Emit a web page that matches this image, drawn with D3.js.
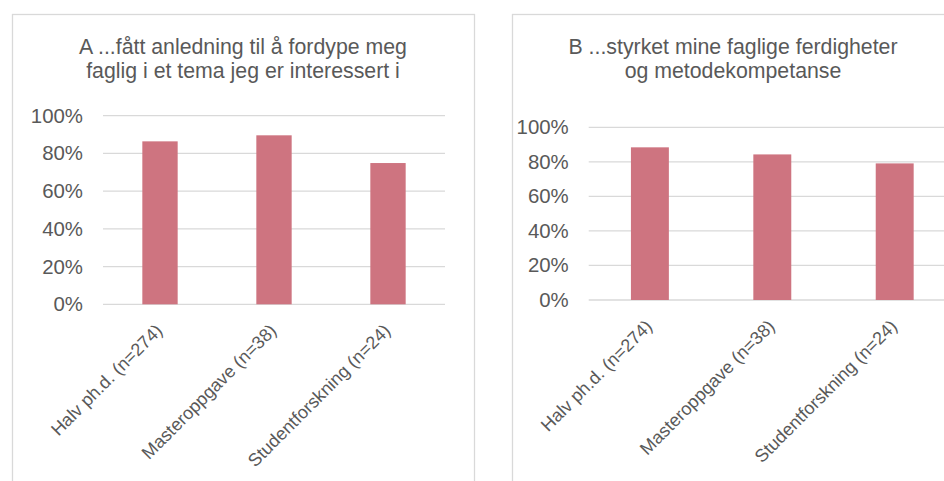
<!DOCTYPE html>
<html><head><meta charset="utf-8">
<script src="https://cdn.jsdelivr.net/npm/d3@7"></script>
<style>
html,body{margin:0;padding:0;background:#fff;}
svg{display:block;font-family:"Liberation Sans",Arial,sans-serif;}
</style></head>
<body>
<svg id="chart" width="944" height="481"></svg>
<script>
const categories = ["Halv ph.d. (n=274)", "Masteroppgave (n=38)", "Studentforskning (n=24)"];
const valuesA = [0.864, 0.896, 0.749];
const valuesB = [0.884, 0.843, 0.791];
const tickValues = [0, 0.2, 0.4, 0.6, 0.8, 1.0];
const tickLabels = ["0%", "20%", "40%", "60%", "80%", "100%"];
const titleA = ["A ...fått anledning til å fordype meg", "faglig i et tema jeg er interessert i"];
const titleB = ["B ...styrket mine faglige ferdigheter", "og metodekompetanse"];

const svg = d3.select("#chart");
const textColor = "#595959", gridColor = "#d9d9d9", barColor = "#ce7480";

function panel(cfg) {
  const g = svg.append("g");
  g.append("rect").attr("x", cfg.bx + 0.5).attr("y", cfg.by + 0.5)
    .attr("width", cfg.bw).attr("height", cfg.bh)
    .attr("fill", "#fff").attr("stroke", gridColor).attr("stroke-width", 1.3);

  const x = d3.scaleBand().domain(categories).range([cfg.x0, cfg.x1])
    .paddingInner(0.69).paddingOuter(0.345);
  const y = d3.scaleLinear().domain([0, 1]).range([cfg.y0, cfg.y1]);

  g.append("g").selectAll("line").data(tickValues).join("line")
    .attr("x1", cfg.x0).attr("x2", cfg.x1)
    .attr("y1", d => y(d)).attr("y2", d => y(d))
    .attr("stroke", gridColor).attr("stroke-width", 1.3);

  const yAxis = d3.axisLeft(y).tickValues(tickValues)
    .tickFormat((d, i) => tickLabels[i]).tickSize(0).tickPadding(20);
  const ya = g.append("g").attr("transform", `translate(${cfg.x0},0)`).call(yAxis);
  ya.select(".domain").remove();
  ya.selectAll("text").attr("fill", textColor).attr("font-size", 20.4)
    .attr("font-family", '"Liberation Sans",Arial,sans-serif');

  g.append("g").selectAll("rect").data(cfg.values).join("rect")
    .attr("x", (d, i) => x(categories[i]))
    .attr("width", x.bandwidth())
    .attr("y", d => y(d))
    .attr("height", d => y(0) - y(d))
    .attr("fill", barColor);

  g.append("g").selectAll("text").data(categories).join("text")
    .attr("transform", d => `translate(${x(d) + x.bandwidth() / 2 - 1},${cfg.y0 + 23}) rotate(-45)`)
    .attr("text-anchor", "end")
    .attr("dy", "0.35em")
    .attr("fill", textColor).attr("font-size", 18)
    .text(d => d);

  g.append("text").attr("x", cfg.tx).attr("y", cfg.ty)
    .attr("text-anchor", "middle").attr("fill", textColor).attr("font-size", 21.3)
    .selectAll("tspan").data(cfg.title).join("tspan")
    .attr("x", cfg.tx).attr("dy", (d, i) => i === 0 ? 0 : 24).text(d => d);
}

panel({bx: 12, by: 14, bw: 462, bh: 480, x0: 103, x1: 445, y0: 304.3, y1: 115.7,
  values: valuesA, title: titleA, tx: 243, ty: 54});
panel({bx: 512, by: 14, bw: 443, bh: 480, x0: 588.7, x1: 955.9, y0: 300, y1: 127.3,
  values: valuesB, title: titleB, tx: 733, ty: 54});
</script>
</body></html>
